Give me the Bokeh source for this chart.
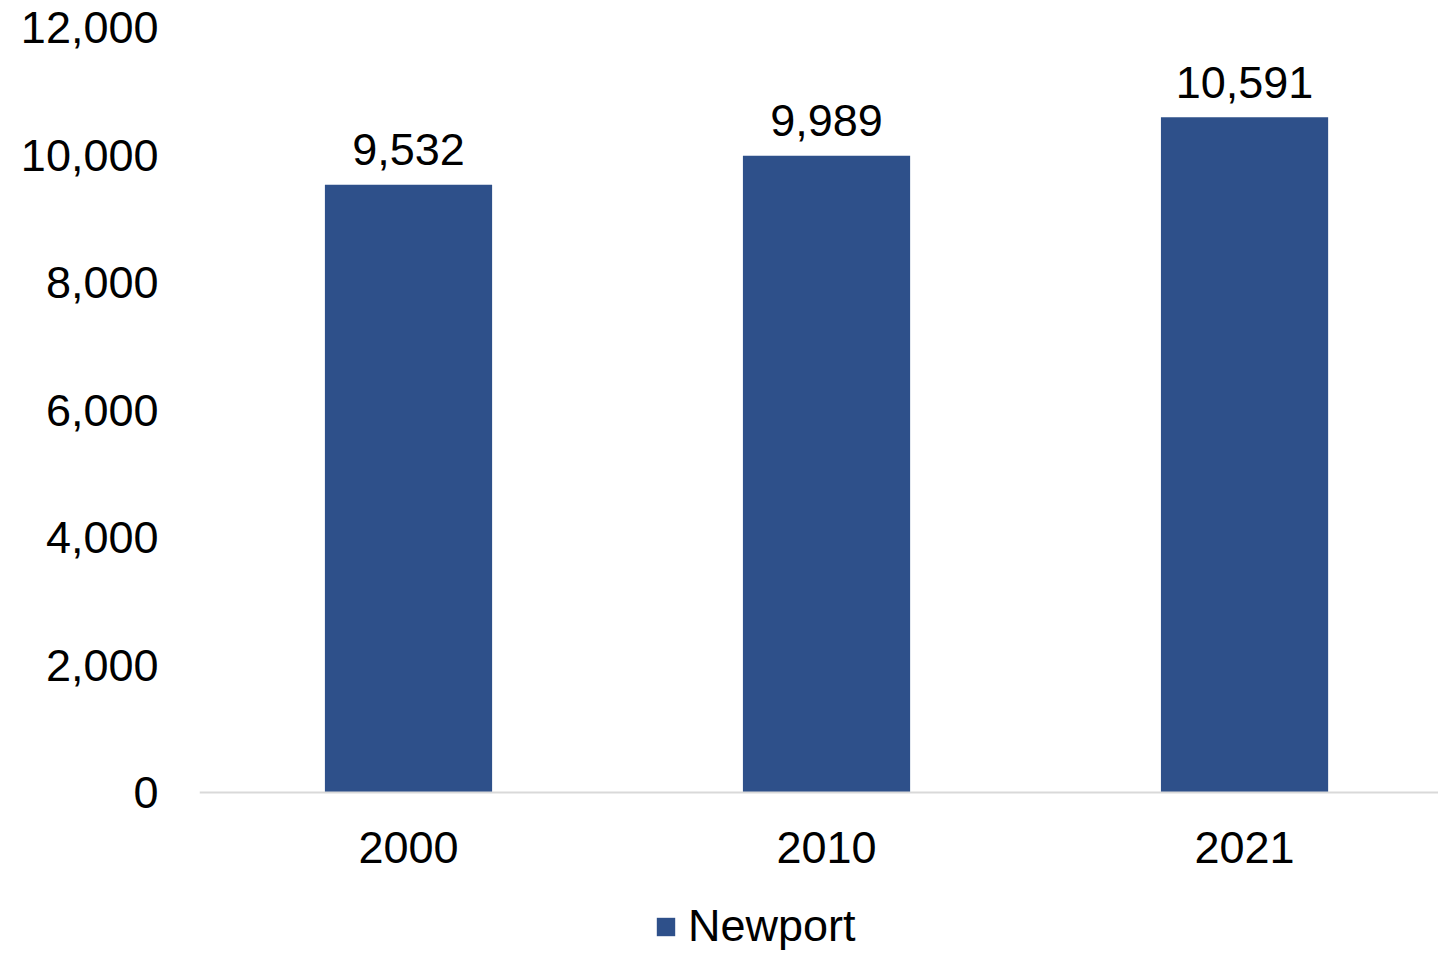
from bokeh.plotting import figure
from bokeh.models import ColumnDataSource, FixedTicker, Range1d, Legend, LegendItem, NumeralTickFormatter
from bokeh.core.properties import value
from bokeh.embed import file_html
from bokeh.resources import INLINE

years = ["2000", "2010", "2021"]
population = [9532, 9989, 10591]
labels = ["9,532", "9,989", "10,591"]
y_ticks = [0, 2000, 4000, 6000, 8000, 10000, 12000]
series_name = "Newport"

FONT = "Liberation Sans"
BLUE = "#2E508A"

xpos = [i + 0.5 for i in range(len(years))]
src = ColumnDataSource(dict(x=xpos, top=population, label=labels))

p = figure(width=1438, height=954, output_backend="svg", toolbar_location=None,
           x_range=Range1d(0, 2.964), y_range=Range1d(-2541, 12000),
           min_border_left=199, min_border_right=0, min_border_top=27, min_border_bottom=0)
p.outline_line_color = None
p.xgrid.visible = False
p.ygrid.visible = False

bars = p.vbar(x="x", top="top", bottom=0, width=0.4, source=src, fill_color=BLUE, line_color=None)
p.text(x="x", y="top", text="label", source=src, text_align="center", text_baseline="alphabetic",
       y_offset=-35, text_font=value(FONT), text_font_size="45px", text_color="#000000")

p.yaxis.ticker = FixedTicker(ticks=y_ticks)
p.yaxis.formatter = NumeralTickFormatter(format="0,0")
p.yaxis.axis_line_color = None
p.yaxis.major_tick_line_color = None
p.yaxis.minor_tick_line_color = None
p.yaxis.major_label_standoff = 35
p.yaxis.major_label_text_font = FONT
p.yaxis.major_label_text_font_size = "45px"
p.yaxis.major_label_text_color = "#000000"

p.xaxis.fixed_location = 0
p.xaxis.ticker = FixedTicker(ticks=xpos)
p.xaxis.major_label_overrides = {x: y for x, y in zip(xpos, years)}
p.xaxis.axis_line_color = "#D9D9D9"
p.xaxis.axis_line_width = 2
p.xaxis.major_tick_line_color = None
p.xaxis.minor_tick_line_color = None
p.xaxis.major_label_standoff = 33
p.xaxis.major_label_text_font = FONT
p.xaxis.major_label_text_font_size = "45px"
p.xaxis.major_label_text_color = "#000000"

legend = Legend(items=[LegendItem(label=series_name, renderers=[bars])],
                location=(455, 2), orientation="horizontal",
                glyph_width=23, glyph_height=23, label_standoff=11,
                label_text_font=FONT, label_text_font_size="45px", label_text_color="#000000",
                border_line_color=None, background_fill_alpha=0, padding=0, margin=0)
p.add_layout(legend, "center")

open("out.html", "w").write(file_html(p, INLINE))
